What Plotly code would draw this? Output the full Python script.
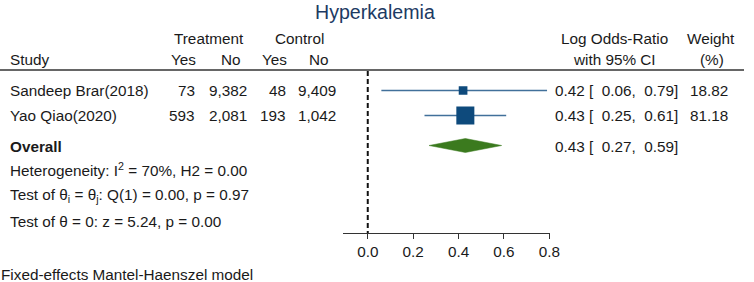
import plotly.graph_objects as go

# ---------------- data ----------------
studies = ["Sandeep Brar(2018)", "Yao Qiao(2020)"]
treat_yes = [73, 593]
treat_no = [9382, 2081]
ctrl_yes = [48, 193]
ctrl_no = [9409, 1042]
log_or = [0.42, 0.43]
ci_low = [0.06, 0.25]
ci_high = [0.79, 0.61]
weights = [18.82, 81.18]
overall_est = 0.43
overall_low = 0.27
overall_high = 0.59
tick_vals = [0.0, 0.2, 0.4, 0.6, 0.8]
tick_text = ["0.0", "0.2", "0.4", "0.6", "0.8"]

# ---------------- layout constants ----------------
W, H = 754, 282
row_y = [90.5, 115.5]
overall_y = 145.5
FONT = "Liberation Sans, Arial, sans-serif"
TXT = "#1a1a1a"
FS = 15.3
NB = "\u00a0"

fig = go.Figure()

# null line
fig.add_trace(go.Scatter(x=[0, 0], y=[71, 233], mode="lines",
                         line=dict(color="#111111", width=2, dash="5px,3px"),
                         hoverinfo="skip", showlegend=False))

# CI lines and squares
for i in range(len(studies)):
    fig.add_trace(go.Scatter(x=[ci_low[i], ci_high[i]], y=[row_y[i], row_y[i]], mode="lines",
                             line=dict(color="#41709a", width=1.5),
                             hoverinfo="skip", showlegend=False))
    fig.add_trace(go.Scatter(x=[log_or[i]], y=[row_y[i]], mode="markers",
                             marker=dict(symbol="square", size=2.0 * weights[i] ** 0.5,
                                         color="#0e4a7c", line=dict(width=0)),
                             hoverinfo="skip", showlegend=False))

# overall diamond
fig.add_trace(go.Scatter(x=[overall_low, overall_est, overall_high, overall_est, overall_low],
                         y=[overall_y, overall_y - 7, overall_y, overall_y + 7, overall_y],
                         mode="lines", fill="toself", fillcolor="#3b7a1e",
                         line=dict(color="#3b7a1e", width=0.5),
                         hoverinfo="skip", showlegend=False))

ann = []


def txt(x, y, s, anchor="left", size=FS, color=TXT):
    ann.append(dict(x=x / W, y=y, xref="paper", yref="y", text=s, showarrow=False,
                    xanchor=anchor, yanchor="middle", borderpad=0, borderwidth=0,
                    font=dict(family=FONT, size=size, color=color)))


# title
txt(380, 12, "Hyperkalemia", "center", 19.6, "#1d3a63")

# headers
txt(212, 38, "Treatment", "center")
txt(304, 38, "Control", "center")
txt(10, 59, "Study")
txt(186, 59, "Yes", "center")
txt(234, 59, "No", "center")
txt(278.5, 59, "Yes", "center")
txt(323, 59, "No", "center")
txt(623, 38, "Log Odds-Ratio", "center")
txt(623, 59, "with 95% CI", "center")
txt(721, 38, "Weight", "center")
txt(722, 59, "(%)", "center")

# rows
for i in range(len(studies)):
    y = row_y[i] - 0.5
    txt(10, y, studies[i])
    txt(198, y, f"{treat_yes[i]:,}", "right")
    txt(250, y, f"{treat_no[i]:,}", "right")
    txt(290, y, f"{ctrl_yes[i]:,}", "right")
    txt(341, y, f"{ctrl_no[i]:,}", "right")
    txt(562, y, f"{log_or[i]:.2f} [{NB}{NB}{ci_low[i]:.2f},{NB}{NB}{ci_high[i]:.2f}]")
    txt(738, y, f"{weights[i]:.2f}", "right")

txt(10, 146, "<b>Overall</b>")
txt(562, 146, f"{overall_est:.2f} [{NB}{NB}{overall_low:.2f},{NB}{NB}{overall_high:.2f}]")
txt(10, 169, "Heterogeneity: I<sup>2</sup> = 70%, H2 = 0.00")
txt(10, 195, "Test of θ<sub>i</sub> = θ<sub>j</sub>: Q(1) = 0.00, p = 0.97")
txt(10, 221, "Test of θ = 0: z = 5.24, p = 0.00")
txt(1, 274, "Fixed-effects Mantel-Haenszel model")

fig.update_layout(
    width=W, height=H, autosize=False,
    margin=dict(l=0, r=0, t=0, b=0, pad=0),
    paper_bgcolor="white", plot_bgcolor="white",
    annotations=ann,
    shapes=[dict(type="line", xref="paper", yref="y", x0=0, x1=1, y0=70, y1=70,
                 line=dict(color="#333333", width=1.5))],
    xaxis=dict(domain=[348 / W, 557 / W], range=[(348 - 372.7) / 230, (557 - 372.7) / 230],
               anchor="free", position=1 - 233 / H,
               showgrid=False, zeroline=False, showline=True, linecolor="#333333", linewidth=1,
               ticks="outside", ticklen=5, tickcolor="#333333", tickwidth=1,
               tickvals=tick_vals, ticktext=tick_text,
               tickfont=dict(family=FONT, size=FS, color=TXT)),
    yaxis=dict(domain=[0, 1], range=[H, 0], visible=False, showgrid=False, zeroline=False),
)

fig.write_html("out.html",
               config={"displayModeBar": False, "responsive": False, "staticPlot": True},
               post_script="document.body.style.margin='0';document.body.style.overflow='hidden';")
